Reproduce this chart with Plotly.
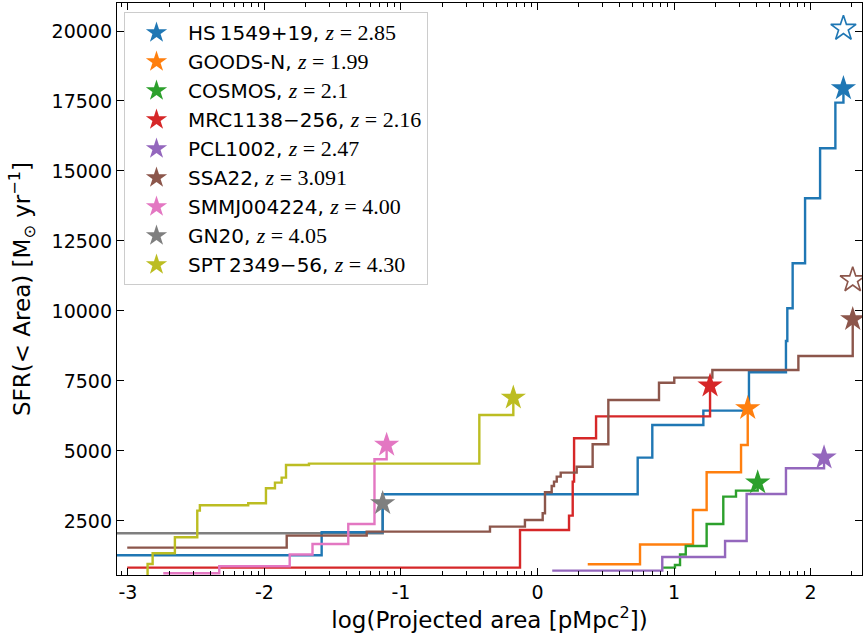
import numpy as np
import plotly.graph_objects as go

# ---------------- data (log10 projected area, cumulative SFR) ----------------
names = ["HS\u20091549+19", "GOODS-N", "COSMOS", "MRC1138\u2212256", "PCL1002",
         "SSA22", "SMMJ004224", "GN20", "SPT\u20092349\u221256"]
redshifts = ["2.85", "1.99", "2.1", "2.16", "2.47", "3.091", "4.00", "4.05", "4.30"]
colors = ["#1f77b4", "#ff7f0e", "#2ca02c", "#d62728", "#9467bd",
          "#8c564b", "#e377c2", "#7f7f7f", "#bcbd22"]

hs_x = [-3.2, -1.581, -1.134, 0.734, 0.841, 1.215, 1.549, 1.82, 1.83, 1.869, 1.96, 2.07, 2.182, 2.241]
hs_y = [1275, 2096, 3453, 4761, 5929, 6440, 7810, 8929, 10100, 11703, 14024, 15810, 17440, 17950]

goods_x = [0.368, 0.751, 1.139, 1.239, 1.491, 1.54]
goods_y = [954, 1660, 2893, 4239, 5214, 6525]

cosmos_x = [0.92, 1.007, 1.044, 1.086, 1.239, 1.361, 1.454, 1.613]
cosmos_y = [832, 929, 1300, 1607, 2393, 3368, 3582, 3870]

mrc_x = [-3.005, -0.128, 0.231, 0.258, 0.268, 0.429, 1.264]
mrc_y = [832, 2179, 2690, 3904, 5453, 6237, 7330]

pcl_x = [0.108, 0.914, 1.374, 1.532, 1.82, 2.099]
pcl_y = [725, 1215, 1786, 3464, 4382, 4761]

ssa_x = [-3.005, -1.837, -1.251, -0.348, -0.092, 0.038, 0.055, 0.104, 0.121, 0.141, 0.170,
         0.287, 0.404, 0.519, 0.890, 1.002, 1.281, 1.911, 2.309]
ssa_y = [1548, 1976, 2118, 2297, 2536, 2774, 3524, 3750, 3904, 4083, 4225,
         4439, 5239, 6821, 7439, 7618, 7893, 8393, 9703]

smm_x = [-2.741, -2.331, -1.815, -1.648, -1.386, -1.194, -1.105]
smm_y = [632, 880, 1300, 1679, 2390, 4703, 5214]

gn_x = [-3.2, -1.134]
gn_y = [2060, 3130]

spt_x = [-2.856, -2.856, -2.819, -2.656, -2.492, -2.473, -2.119, -1.989, -1.923, -1.874,
         -1.842, -1.674, -0.426, -0.177]
spt_y = [300, 964, 1347, 1918, 2868, 3061, 3132, 3668, 3869, 4047,
         4500, 4547, 6286, 6900]

open_x = [2.241, 2.309]
open_y = [20090, 11107]
open_idx = [0, 5]

series_x = [hs_x, goods_x, cosmos_x, mrc_x, pcl_x, ssa_x, smm_x, gn_x, spt_x]
series_y = [hs_y, goods_y, cosmos_y, mrc_y, pcl_y, ssa_y, smm_y, gn_y, spt_y]

x_ticks = [-3, -2, -1, 0, 1, 2]
x_ticktext = ["-3", "-2", "-1", "0", "1", "2"]
y_ticks = [2500, 5000, 7500, 10000, 12500, 15000, 17500, 20000]

minor_vals = [float(d + np.log10(k)) for d in range(-4, 3) for k in range(2, 10)]

fig = go.Figure()

# step lines (gray drawn first so it sits beneath the blue one)
order = [7, 0, 1, 2, 3, 4, 5, 6, 8]
for i in order:
    fig.add_trace(go.Scatter(x=series_x[i], y=series_y[i], mode="lines",
                             line=dict(color=colors[i], width=2.4, shape="hv"),
                             showlegend=False, hoverinfo="skip"))

# open stars
for j, i in enumerate(open_idx):
    fig.add_trace(go.Scatter(x=[open_x[j]], y=[open_y[j]], mode="markers",
                             marker=dict(symbol="star-open", size=19, color=colors[i],
                                         line=dict(width=1.6, color=colors[i])),
                             showlegend=False, hoverinfo="skip"))

SERIF = "font-family:'Liberation Serif', 'DejaVu Serif', serif; font-size:22px"
for i in range(9):
    label = (f"{names[i]}, <span style=\"{SERIF}\"><i>z</i> = {redshifts[i]}</span>")
    fig.add_trace(go.Scatter(x=[series_x[i][-1]], y=[series_y[i][-1]], mode="markers",
                             marker=dict(symbol="star", size=19, color=colors[i],
                                         line=dict(width=0)),
                             name=label))

axis_common = dict(showgrid=False, zeroline=False, showline=True, linecolor="black",
                   linewidth=1.3, mirror="ticks", ticks="inside", tickcolor="black",
                   tickwidth=1.3, ticklen=7,
                   tickfont=dict(family="DejaVu Sans", size=19, color="black"))

fig.update_layout(
    width=865, height=641,
    margin=dict(l=117, r=3, t=3, b=66),
    paper_bgcolor="white", plot_bgcolor="white",
    font=dict(family="DejaVu Sans", color="black"),
    xaxis=dict(range=[-3.08, 2.377], tickmode="array", tickvals=x_ticks, ticktext=x_ticktext,
               minor=dict(tickmode="array", tickvals=minor_vals, ticks="inside", ticklen=4,
                          tickwidth=1.0, tickcolor="black"),
               title=dict(text="log(Projected area [pMpc<sup>2</sup>])",
                          font=dict(size=23, family="DejaVu Sans"), standoff=4),
               **axis_common),
    yaxis=dict(range=[570, 21000], tickmode="array", tickvals=y_ticks, tickformat="d",
               title=dict(text="SFR(< Area) [M<sub>⊙</sub> yr<sup>−1</sup>]",
                          font=dict(size=23, family="DejaVu Sans"), standoff=14),
               **axis_common),
    legend=dict(x=0.0094, y=0.984, xanchor="left", yanchor="top",
                bgcolor="rgba(255,255,255,0.85)", bordercolor="#cccccc", borderwidth=1,
                font=dict(family="DejaVu Sans", size=20, color="black"),
                itemwidth=53, itemsizing="trace"),
    showlegend=True,
)

fig.write_html("out.html")
